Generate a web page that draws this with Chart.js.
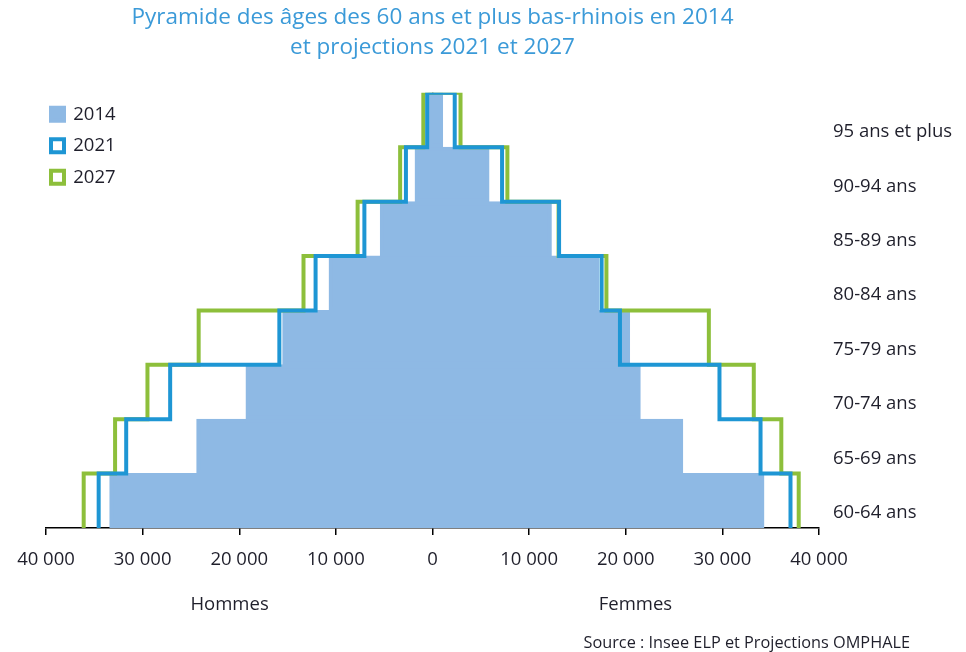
<!DOCTYPE html>
<html lang="fr">
<head>
<meta charset="utf-8">
<title>Pyramide des âges - Bas-Rhin</title>
<script src="https://cdn.jsdelivr.net/npm/chart.js@4.4.1/dist/chart.umd.min.js"></script>
<style>
  html, body { margin: 0; padding: 0; background: #fff; }
  #wrap { width: 966px; height: 652px; position: relative; }
</style>
</head>
<body>
<div id="wrap"><canvas id="pyramide"></canvas></div>
<script>
// --- DONNÉES (du bas vers le haut de la pyramide) ---
const ages = ['60-64 ans', '65-69 ans', '70-74 ans', '75-79 ans', '80-84 ans', '85-89 ans', '90-94 ans', '95 ans et plus'];

const hommes2014 = [33400, 24400, 19300, 15500, 10700, 5400, 1800, 400];
const femmes2014 = [34300, 25900, 21500, 20400, 17200, 12300, 5850, 1050];

const hommes2021 = [34550, 31700, 27150, 15850, 12100, 7050, 2750, 550];
const femmes2021 = [37050, 33950, 29700, 19400, 17500, 13100, 7200, 2300];

const hommes2027 = [36100, 32850, 29500, 24200, 13350, 7750, 3350, 950];
const femmes2027 = [37900, 36100, 33250, 28600, 18000, 13050, 7750, 2900];

const xTicks = [-40000, -30000, -20000, -10000, 0, 10000, 20000, 30000, 40000];

const COL_2014 = '#8eb9e4';
const COL_2021 = '#1e96d4';
const COL_2027 = '#8dbf3b';
const COL_TEXTE = '#1f1f2b';
const POLICE = '"Open Sans", Lato, sans-serif';

// barres flottantes : de -hommes à +femmes pour chaque tranche
function barresPyramide(hommes, femmes) {
    return hommes.map((h, i) => ({ x: [-h, femmes[i]], y: i + 0.5 }));
}

// contour en escalier : côté hommes en montant, puis côté femmes en descendant
function contourPyramide(hommes, femmes) {
    const pts = [];
    hommes.forEach((h, i) => {
        pts.push({ x: -h, y: i });
        pts.push({ x: -h, y: i + 1 });
    });
    for (let i = femmes.length - 1; i >= 0; i--) {
        pts.push({ x: femmes[i], y: i + 1 });
        pts.push({ x: femmes[i], y: i });
    }
    return pts;
}

function formatMilliers(v) {
    return String(Math.abs(v)).replace(/\B(?=(\d{3})+(?!\d))/g, ' ');
}

// la légende reste dans le coin haut-gauche de la zone du graphique
const legendeInterne = {
    id: 'legendeInterne',
    afterLayout(chart) {
        const leg = chart.legend;
        if (!leg) return;
        leg.left = chart.chartArea.left - 8;
        leg.top = chart.chartArea.top - 0.75;
    }
};

// libellés Hommes / Femmes sous l'axe, et la source en bas à droite
const textesBas = {
    id: 'textesBas',
    afterDraw(chart) {
        const { ctx, chartArea } = chart;
        const x = chart.scales.x;
        ctx.save();
        ctx.fillStyle = COL_TEXTE;
        ctx.textBaseline = 'middle';
        ctx.font = '18.5px ' + POLICE;
        ctx.textAlign = 'center';
        ctx.fillText('Hommes', x.getPixelForValue(-21000), chartArea.bottom + 77);
        ctx.fillText('Femmes', x.getPixelForValue(21000), chartArea.bottom + 77);
        ctx.font = '16.3px ' + POLICE;
        ctx.textAlign = 'right';
        ctx.fillText('Source : Insee ELP et Projections OMPHALE', chart.width - 56, chart.height - 9);
        ctx.restore();
    }
};

const ctx = document.getElementById('pyramide');

new Chart(ctx, {
    type: 'bar',
    data: {
        datasets: [
            {
                type: 'bar',
                label: '2014',
                data: barresPyramide(hommes2014, femmes2014),
                backgroundColor: COL_2014,
                borderColor: COL_2014,
                borderWidth: 4,
                borderSkipped: false,
                barPercentage: 1,
                categoryPercentage: 1,
                grouped: false,
                inflateAmount: 0.5,
                yAxisID: 'y',
                order: 3
            },
            {
                type: 'line',
                label: '2021',
                data: contourPyramide(hommes2021, femmes2021),
                borderColor: COL_2021,
                backgroundColor: '#ffffff',
                borderWidth: 4,
                borderJoinStyle: 'miter',
                pointRadius: 0,
                fill: false,
                yAxisID: 'y',
                order: 1
            },
            {
                type: 'line',
                label: '2027',
                data: contourPyramide(hommes2027, femmes2027),
                borderColor: COL_2027,
                backgroundColor: '#ffffff',
                borderWidth: 4,
                borderJoinStyle: 'miter',
                pointRadius: 0,
                fill: false,
                yAxisID: 'y',
                order: 2
            }
        ]
    },
    options: {
        indexAxis: 'y',
        responsive: true,
        maintainAspectRatio: false,
        animation: false,
        events: [],
        layout: { padding: { left: 46, right: 0, top: 0, bottom: 0 } },
        scales: {
            x: {
                type: 'linear',
                min: -40000,
                max: 40000,
                z: 1,
                afterBuildTicks: (scale) => { scale.ticks = xTicks.map(v => ({ value: v })); },
                afterFit: (scale) => { scale.height = 124; },
                grid: {
                    drawOnChartArea: true,
                    color: (c) => (c.tick && c.tick.value === 0 ? '#000' : 'rgba(0,0,0,0)'),
                    lineWidth: 1.5,
                    tickColor: '#000',
                    tickLength: 7
                },
                border: { display: true, color: '#000', width: 1.5 },
                ticks: {
                    color: COL_TEXTE,
                    font: { family: POLICE, size: 18.5 },
                    padding: 14,
                    maxRotation: 0,
                    callback: (v) => formatMilliers(v)
                }
            },
            y: {
                type: 'linear',
                min: 0,
                max: 8,
                offset: false,
                display: false
            },
            yAge: {
                type: 'linear',
                position: 'right',
                min: 0,
                max: 8,
                offset: false,
                afterBuildTicks: (scale) => { scale.ticks = ages.map((a, i) => ({ value: i + 0.5 })); },
                afterFit: (scale) => { scale.width = 147; },
                grid: { display: false, drawTicks: false },
                border: { display: false },
                ticks: {
                    color: COL_TEXTE,
                    font: { family: POLICE, size: 18.5 },
                    padding: 14,
                    labelOffset: 12,
                    callback: (v) => ages[Math.floor(v)]
                }
            }
        },
        plugins: {
            title: {
                display: true,
                fullSize: false,
                text: ['Pyramide des âges des 60 ans et plus bas-rhinois en 2014', 'et projections 2021 et 2027'],
                color: '#3b9ad8',
                font: { family: POLICE, size: 22.5, weight: 'normal', lineHeight: 1.33 },
                padding: { top: 3, bottom: 30 }
            },
            legend: {
                position: 'chartArea',
                align: 'start',
                labels: {
                    color: COL_TEXTE,
                    font: { family: POLICE, size: 18.5 },
                    boxWidth: 13,
                    boxHeight: 13,
                    padding: 13,
                    sort: (a, b) => a.datasetIndex - b.datasetIndex
                }
            },
            tooltip: { enabled: false }
        }
    },
    plugins: [legendeInterne, textesBas]
});
</script>
</body>
</html>
